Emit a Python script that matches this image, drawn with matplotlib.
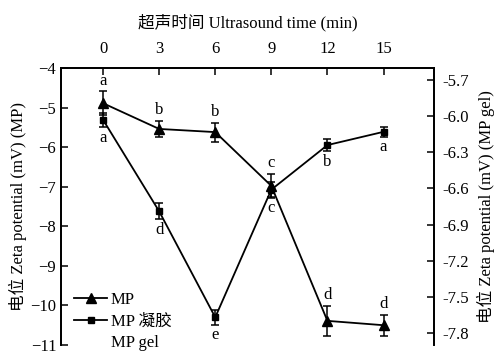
import matplotlib
matplotlib.use("Agg")
import matplotlib.pyplot as plt
from matplotlib.lines import Line2D

FONT = ["Liberation Serif", "Noto Sans CJK SC"]
plt.rcParams["font.family"] = FONT
plt.rcParams["font.size"] = 12

# ultrasound time (min)
time = [0, 3, 6, 9, 12, 15]
# MP zeta potential (left axis)
mp = [-4.89, -5.54, -5.62, -6.98, -10.39, -10.50]
mp_err = [0.30, 0.20, 0.24, 0.30, 0.37, 0.27]
mp_letters = ["a", "b", "b", "c", "d", "d"]
# MP gel zeta potential (right axis)
gel = [-6.03, -6.79, -7.67, -6.61, -6.24, -6.13]
gel_err = [0.06, 0.065, 0.06, 0.06, 0.05, 0.04]
gel_letters = ["a", "d", "e", "c", "b", "a"]

fig = plt.figure(figsize=(5.03, 3.59), dpi=100)
ax = fig.add_axes([61/503, 1 - 345/359, (434-61)/503, (345-68)/359])
ax2 = ax.twinx()

ax.errorbar(time, mp, yerr=mp_err, fmt="-^", color="black", lw=1.3,
            ms=6.5, capsize=3, elinewidth=1.1, capthick=1.1)
ax2.errorbar(time, gel, yerr=gel_err, fmt="-s", color="black", lw=1.3,
             ms=5, capsize=3, elinewidth=1.1, capthick=1.1)

for x, y, e, t in zip(time, mp, mp_err, mp_letters):
    ax.annotate(t, (x, y + e), xytext=(0, 2), textcoords="offset points",
                ha="center", va="bottom")
for x, y, e, t in zip(time, gel, gel_err, gel_letters):
    ax2.annotate(t, (x, y - e), xytext=(0, -2), textcoords="offset points",
                 ha="center", va="top")

ax.set_xlim(-2.25, 17.7)
ax.set_ylim(-11, -4)
ax2.set_ylim(-7.9, -5.6)
ax.set_yticks(range(-11, -3))
ax2.set_yticks([-7.8, -7.5, -7.2, -6.9, -6.6, -6.3, -6.0, -5.7])
ax2.set_yticklabels(["-7.8", "-7.5", "-7.2", "-6.9", "-6.6", "-6.3", "-6.0", "-5.7"])
ax.set_xticks(time)

ax.xaxis.tick_top()
ax.xaxis.set_label_position("top")
ax.set_xlabel("超声时间 Ultrasound time (min)", labelpad=10)
ax.set_ylabel("电位 Zeta potential (mV) (MP)", labelpad=2)
ax2.set_ylabel("电位 Zeta potential (mV) (MP gel)", labelpad=6)

for a in (ax, ax2):
    a.spines["bottom"].set_visible(False)
    for s in a.spines.values():
        s.set_linewidth(1.3)
ax.tick_params(axis="both", direction="in", length=5, width=1.1)
ax.tick_params(axis="x", top=True, bottom=False, pad=8)
ax2.tick_params(axis="y", direction="in", length=5, width=1.1, pad=6)

handles = [Line2D([], [], color="black", lw=1.3, marker="^", ms=6.5),
           Line2D([], [], color="black", lw=1.3, marker="s", ms=5),
           Line2D([], [], color="none")]
ax.legend(handles, ["MP", "MP 凝胶", "MP gel"], loc="lower left",
          bbox_to_anchor=(-0.005, -0.075), frameon=False, handlelength=2.0,
          handletextpad=0.2, labelspacing=0.32)

fig.savefig("out.png", dpi=100)
